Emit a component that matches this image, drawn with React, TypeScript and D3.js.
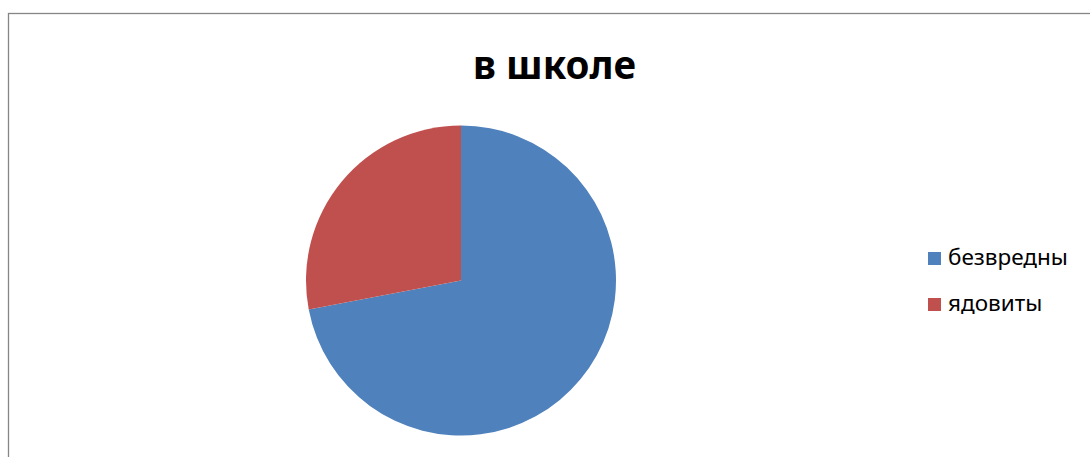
import React from "react";
import * as d3 from "d3";

const title = "в школе";
const categories = ["безвредны", "ядовиты"];
const values = [72, 28];
const colors = ["#4F81BD", "#C0504D"];

const W = 1090;
const H = 457;

export default function App() {
  const cx = 461;
  const cy = 280.5;
  const r = 155;
  const pie = d3.pie<number>().sort(null).value((d) => d)(values);
  const arc = d3.arc<d3.PieArcDatum<number>>().innerRadius(0).outerRadius(r);
  const legendY = d3.scalePoint<string>().domain(categories).range([258.5, 304.5]);
  const font = "'Noto Sans', 'Open Sans', sans-serif";
  return (
    <svg
      width={W}
      height={H}
      style={{ position: "absolute", left: 0, top: 0, background: "#fff" }}
    >
      <rect x={0} y={0} width={W} height={H} fill="#fff" />
      <rect
        x={8.5}
        y={13.5}
        width={W + 20}
        height={H + 20}
        fill="#fff"
        stroke="#868686"
        strokeWidth={1.3}
      />
      <text
        x={554.5}
        y={79}
        textAnchor="middle"
        fontFamily={font}
        fontWeight="bold"
        fontSize={38.5}
        fill="#000"
      >
        {title}
      </text>
      <g transform={`translate(${cx},${cy})`}>
        {pie.map((p, i) => (
          <path key={i} d={arc(p) || ""} fill={colors[i]} />
        ))}
      </g>
      <g>
        {categories.map((c, i) => {
          const y = legendY(c) as number;
          return (
            <g key={c}>
              <rect x={928} y={y - 6.5} width={13} height={13} fill={colors[i]} />
              <text
                x={948}
                y={y + 6.5}
                fontFamily={font}
                fontSize={22.5}
                fill="#000"
              >
                {c}
              </text>
            </g>
          );
        })}
      </g>
    </svg>
  );
}
